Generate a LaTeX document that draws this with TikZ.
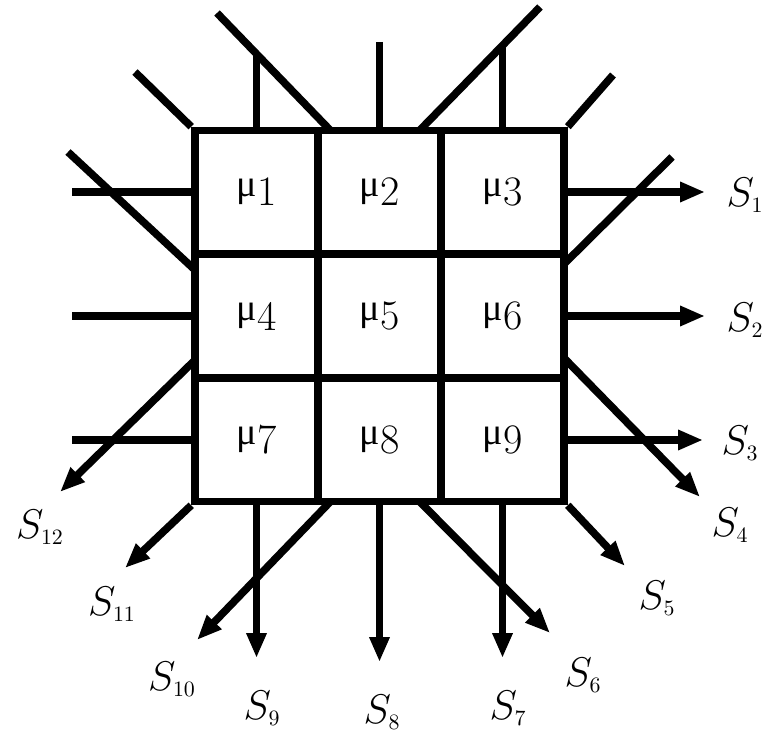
\documentclass[tikz,border=0pt]{standalone}
\usepackage{fontspec}
\newfontfamily\grkfont{Liberation Serif}
\usetikzlibrary{arrows.meta}
\newcommand{\mulabel}[1]{{\grkfont\fontsize{19}{20}\selectfont μ}\raisebox{-0.5ex}{#1}}
\newcommand{\slabel}[1]{$S_{\scriptscriptstyle #1}$}

\begin{document}
\begin{tikzpicture}[x=0.5pt, y=-0.5pt, line width=3.8pt,
      >={Triangle[length=12.5pt,width=9.5pt]},
      cell/.style={draw, line width=3.8pt, minimum size=61.5pt, inner sep=0pt,
        font=\fontsize{21}{22}\selectfont},
      sname/.style={inner sep=0pt, font=\fontsize{21}{24}\selectfont}]
    \useasboundingbox (0,0) rectangle (779,742);
    % ==== the 3x3 cells ====
    \foreach \r in {0,1,2}{
      \foreach \c in {0,1,2}{
        \pgfmathtruncatemacro{\k}{3*\r+\c+1}
        \node[cell] (c\k) at ({256.5+123*\c},{192+124*\r}) {\mulabel{\k}};
      }
    }
    % ==== free ends of the incoming lines ====
    \coordinate (l1) at (72,192);
    \coordinate (l2) at (72,316);
    \coordinate (l3) at (72,440);
    \coordinate (t1) at (256.5,54);
    \coordinate (t2) at (379.5,42);
    \coordinate (t3) at (502.5,45);
    \coordinate (d1) at (217,13);
    \coordinate (d2) at (540,7);
    \coordinate (k1) at (135,72);
    \coordinate (k2) at (613,75);
    \coordinate (e1) at (68,152);
    \coordinate (e2) at (672,157);
    % points on the border where diagonals meet it
    \coordinate (p1) at (330,130);
    \coordinate (p2) at (420,130);
    \coordinate (p3) at (195,270);
    \coordinate (p4) at (563,265);
    \coordinate (q1) at (563,357);
    \coordinate (q2) at (420,502);
    \coordinate (q3) at (330,502);
    \coordinate (q4) at (195,360);
    % ==== arrow tips of the outputs ====
    \coordinate (o1) at (705,192);
    \coordinate (o2) at (705,316);
    \coordinate (o3) at (703,440);
    \coordinate (o4) at (700,497);
    \coordinate (o5) at (625,566);
    \coordinate (o6) at (550,633);
    \coordinate (o7) at (502.5,658);
    \coordinate (o8) at (379.5,662);
    \coordinate (o9) at (256.5,658);
    \coordinate (o10) at (197,640);
    \coordinate (o11) at (125,568);
    \coordinate (o12) at (60,492);
    % ==== inputs ====
    \draw (l1) -- (c1.west);
    \draw (l2) -- (c4.west);
    \draw (l3) -- (c7.west);
    \draw (t1) -- (c1.north);
    \draw (t2) -- (c2.north);
    \draw (t3) -- (c3.north);
    \draw (d1) -- (p1);
    \draw (d2) -- (p2);
    \draw (k1) -- (c1.north west);
    \draw (k2) -- (c3.north east);
    \draw (e1) -- (p3);
    \draw (e2) -- (p4);
    % ==== outputs ====
    \draw[->] (c3.east) -- (o1);
    \draw[->] (c6.east) -- (o2);
    \draw[->] (c9.east) -- (o3);
    \draw[->] (q1) -- (o4);
    \draw[->] (c9.south east) -- (o5);
    \draw[->] (q2) -- (o6);
    \draw[->] (c9.south) -- (o7);
    \draw[->] (c8.south) -- (o8);
    \draw[->] (c7.south) -- (o9);
    \draw[->] (q3) -- (o10);
    \draw[->] (c7.south west) -- (o11);
    \draw[->] (q4) -- (o12);
    % ==== output names ====
    \node[sname] (s1) at (745,195) {\slabel{1}};
    \node[sname] (s2) at (745,320) {\slabel{2}};
    \node[sname] (s3) at (740,443) {\slabel{3}};
    \node[sname] (s4) at (730,525) {\slabel{4}};
    \node[sname] (s5) at (657,598) {\slabel{5}};
    \node[sname] (s6) at (583,675) {\slabel{6}};
    \node[sname] (s7) at (508,708) {\slabel{7}};
    \node[sname] (s8) at (382,712) {\slabel{8}};
    \node[sname] (s9) at (262,708) {\slabel{9}};
    \node[sname] (s10) at (172,679) {\slabel{10}};
    \node[sname] (s11) at (112,604) {\slabel{11}};
    \node[sname] (s12) at (40,527) {\slabel{12}};
  \end{tikzpicture}
\end{document}
